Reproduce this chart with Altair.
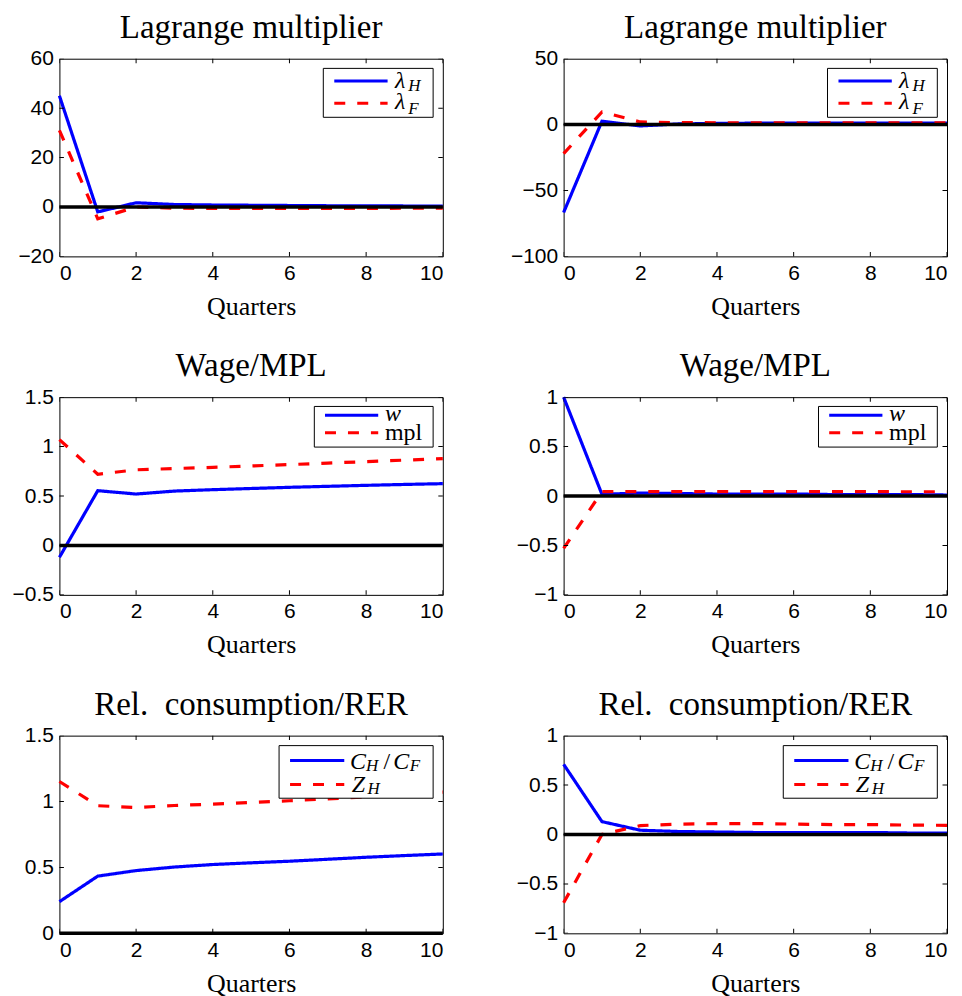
import altair as alt
import pandas as pd

quarters = list(range(11))

# Lagrange multiplier (left / right)
lag_L_lamH = [45.0, -2.0, 1.7, 1.0, 0.8, 0.7, 0.6, 0.5, 0.5, 0.4, 0.4]
lag_L_lamF = [31.0, -4.8, 0.0, -0.5, -0.6, -0.6, -0.6, -0.6, -0.6, -0.5, -0.5]
lag_R_lamH = [-66.7, 2.6, -1.0, 0.5, 0.9, 1.1, 1.2, 1.2, 1.2, 1.2, 1.2]
lag_R_lamF = [-22.0, 9.6, 2.0, 1.5, 1.4, 1.4, 1.3, 1.3, 1.3, 1.3, 1.3]
# Wage / MPL
wage_L_w = [-0.12, 0.554, 0.52, 0.55, 0.564, 0.576, 0.588, 0.598, 0.608, 0.617, 0.625]
wage_L_mpl = [1.07, 0.72, 0.765, 0.778, 0.79, 0.804, 0.818, 0.833, 0.848, 0.863, 0.878]
wage_R_w = [1.0, 0.017, 0.03, 0.025, 0.02, 0.02, 0.02, 0.015, 0.015, 0.015, 0.01]
wage_R_mpl = [-0.53, 0.044, 0.045, 0.045, 0.045, 0.045, 0.045, 0.044, 0.044, 0.043, 0.043]
# Rel. consumption / RER
rel_L_c = [0.24, 0.434, 0.476, 0.503, 0.522, 0.535, 0.547, 0.562, 0.577, 0.59, 0.602]
rel_L_z = [1.152, 0.968, 0.955, 0.97, 0.98, 0.993, 1.006, 1.02, 1.035, 1.053, 1.071]
rel_R_c = [0.71, 0.13, 0.043, 0.03, 0.025, 0.02, 0.02, 0.02, 0.02, 0.015, 0.015]
rel_R_z = [-0.69, 0.0, 0.09, 0.105, 0.11, 0.11, 0.105, 0.10, 0.10, 0.095, 0.093]

titles = ["Lagrange multiplier", "Wage/MPL", "Rel.\u2002consumption/RER"]
x_label = "Quarters"
x_ticks = [0, 2, 4, 6, 8, 10]
y_dom_lag_L, y_ticks_lag_L = [-20, 60], [-20, 0, 20, 40, 60]
y_dom_lag_R, y_ticks_lag_R = [-100, 50], [-100, -50, 0, 50]
y_dom_wage_L, y_ticks_wage_L = [-0.5, 1.5], [-0.5, 0, 0.5, 1, 1.5]
y_dom_wage_R, y_ticks_wage_R = [-1, 1], [-1, -0.5, 0, 0.5, 1]
y_dom_rel_L, y_ticks_rel_L = [0, 1.5], [0, 0.5, 1, 1.5]
y_dom_rel_R, y_ticks_rel_R = [-1, 1], [-1, -0.5, 0, 0.5, 1]

SERIF = "Liberation Serif"
SANS = "Liberation Sans"
BLUE = "#0000ff"
RED = "#ff0000"
W, H = 384, 198
DASH = [11, 12]
LABEL_EXPR = "format(datum.value, '~g')"

one = pd.DataFrame({"k": [0]})


def txt(s, x, y, size, italic=True, align="left"):
    return alt.Chart(one).mark_text(
        text=s, font=SERIF, fontSize=size, fontStyle="italic" if italic else "normal",
        align=align, baseline="alphabetic", color="black"
    ).encode(x=alt.value(x), y=alt.value(y))


def legend(kind):
    layers = []
    if kind == "lag":
        L, T, B, lx1, lx2, ry = 264.3, 9.7, 58.7, 275.3, 328.7, [22.3, 44.7]
    elif kind == "wage":
        L, T, B, lx1, lx2, ry = 255.3, 9.3, 50.0, 266.0, 319.3, [18.0, 35.7]
    else:
        L, T, B, lx1, lx2, ry = 220.0, 10.0, 62.7, 231.0, 285.3, [25.0, 49.0]
    R = 374.3
    layers.append(alt.Chart(one).mark_rect(fill="white", stroke="black", strokeWidth=1).encode(
        x=alt.value(L), x2=alt.value(R), y=alt.value(T), y2=alt.value(B)))
    layers.append(alt.Chart(one).mark_rule(color=BLUE, strokeWidth=3).encode(
        x=alt.value(lx1), x2=alt.value(lx2), y=alt.value(ry[0])))
    layers.append(alt.Chart(one).mark_rule(color=RED, strokeWidth=3, strokeDash=DASH).encode(
        x=alt.value(lx1), x2=alt.value(lx2), y=alt.value(ry[1])))
    if kind == "lag":
        layers += [txt("λ", 336, ry[0] + 7, 24), txt("H", 349.5, ry[0] + 10, 17),
                   txt("λ", 336, ry[1] + 6, 24), txt("F", 349.5, ry[1] + 10.5, 17)]
    elif kind == "wage":
        layers += [txt("w", 326, ry[0] + 6, 24), txt("mpl", 326, ry[1] + 7, 24, italic=False)]
    else:
        layers += [txt("C", 291, ry[0] + 8, 24), txt("H", 307, ry[0] + 10.3, 17),
                   txt("/", 324.5, ry[0] + 8, 24, italic=False),
                   txt("C", 334.3, ry[0] + 8, 24), txt("F", 351, ry[0] + 10.3, 17),
                   txt("Z", 292.7, ry[1] + 7, 24), txt("H", 308.5, ry[1] + 9.7, 17)]
    return layers


def panel(title, blue, red, y_dom, y_ticks, kind):
    df = pd.DataFrame({"q": quarters * 2, "v": blue + red, "s": ["a"] * 11 + ["b"] * 11})
    xs = alt.Scale(domain=[0, 10], nice=False, zero=False)
    ys = alt.Scale(domain=y_dom, nice=False, zero=False)
    xax = alt.Axis(values=x_ticks, title=x_label, labelExpr=LABEL_EXPR)
    yax = alt.Axis(values=y_ticks, title=None, labelExpr=LABEL_EXPR)
    lines = alt.Chart(df).mark_line(strokeWidth=3.2).encode(
        x=alt.X("q:Q", scale=xs, axis=xax),
        y=alt.Y("v:Q", scale=ys, axis=yax),
        color=alt.Color("s:N", scale=alt.Scale(domain=["a", "b"], range=[BLUE, RED]), legend=None),
        strokeDash=alt.StrokeDash("s:N", scale=alt.Scale(domain=["a", "b"], range=[[1, 0], DASH]), legend=None),
    )
    zero = alt.Chart(pd.DataFrame({"z": [0]})).mark_rule(color="black", strokeWidth=3.5).encode(
        y=alt.Y("z:Q", scale=ys, axis=yax))
    xt = pd.DataFrame({"t": x_ticks})
    yt = pd.DataFrame({"t": y_ticks})
    tick_layers = []
    for yv in y_dom:
        tick_layers.append(alt.Chart(xt).mark_tick(orient="vertical", size=9, thickness=1, color="black",
                                                   opacity=1, clip=True).encode(
            x=alt.X("t:Q", scale=xs, axis=xax), y=alt.YDatum(yv, scale=ys, axis=yax)))
    for xv in [0, 10]:
        tick_layers.append(alt.Chart(yt).mark_tick(orient="horizontal", size=9, thickness=1, color="black",
                                                   opacity=1, clip=True).encode(
            y=alt.Y("t:Q", scale=ys, axis=yax), x=alt.XDatum(xv, scale=xs, axis=xax)))
    ttl = txt(title, W / 2, -21, 33, italic=False, align="center")
    return alt.layer(lines, *tick_layers, zero, *legend(kind), ttl).properties(width=W, height=H)


p1 = panel(titles[0], lag_L_lamH, lag_L_lamF, y_dom_lag_L, y_ticks_lag_L, "lag")
p2 = panel(titles[0], lag_R_lamH, lag_R_lamF, y_dom_lag_R, y_ticks_lag_R, "lag")
p3 = panel(titles[1], wage_L_w, wage_L_mpl, y_dom_wage_L, y_ticks_wage_L, "wage")
p4 = panel(titles[1], wage_R_w, wage_R_mpl, y_dom_wage_R, y_ticks_wage_R, "wage")
p5 = panel(titles[2], rel_L_c, rel_L_z, y_dom_rel_L, y_ticks_rel_L, "rel")
p6 = panel(titles[2], rel_R_c, rel_R_z, y_dom_rel_R, y_ticks_rel_R, "rel")

chart = alt.concat(p1, p2, p3, p4, p5, p6, columns=2, bounds="flush",
                   spacing={"row": 141, "column": 121}).properties(
    padding={"left": 3.5, "top": 2, "right": 0, "bottom": 0}
).configure_view(
    stroke="black", strokeWidth=1
).configure_axis(
    domain=False, ticks=False, grid=False,
    labelFont=SANS, labelFontSize=21, labelColor="black", labelPadding=6,
    titleFont=SERIF, titleFontSize=26, titleFontWeight="normal", titleColor="black", titlePadding=10,
)

chart.save("out.html", embed_options={"renderer": "svg", "actions": False})
